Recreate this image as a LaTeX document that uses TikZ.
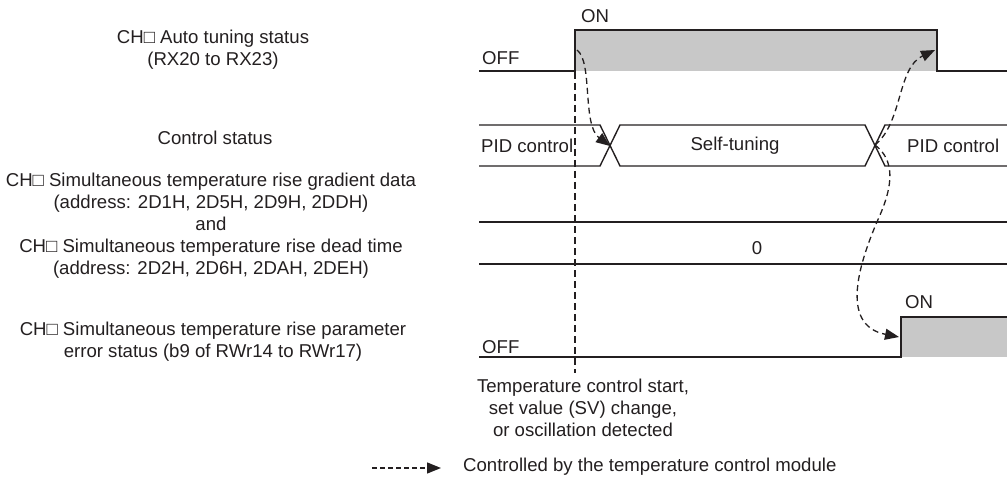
\documentclass[tikz,border=0pt]{standalone}
\usepackage{fontspec}
\setmainfont{Liberation Sans}
\usetikzlibrary{arrows.meta,positioning,calc}
\definecolor{ink}{HTML}{231F20}
\definecolor{sig}{HTML}{C8C8C8}

\begin{document}
\begin{tikzpicture}[x=1pt,y=-1pt,
  every node/.style={font=\fontsize{18.6}{22}\selectfont,text=ink,inner sep=0pt},
  lbl/.style={align=center},
  wave/.style={ink,line width=1.4pt,line join=miter},
  ctrl/.style={ink,line width=1.3pt,dash pattern=on 6pt off 4pt,-{Triangle[length=14pt,width=11pt]}}]
  \useasboundingbox (0,0) rectangle (1007,484);
  % signal names
  \node[lbl] (tunelbl) at (213,50) {CH□ Auto tuning status\\(RX20 to RX23)};
  \node[lbl] (ctrllbl) at (215,138) {Control status};
  \node[lbl] (gradlbl) at (211,226) {CH□ Simultaneous temperature rise gradient data\\(address: 2D1H, 2D5H, 2D9H, 2DDH)\\and\\CH□ Simultaneous temperature rise dead time\\(address: 2D2H, 2D6H, 2DAH, 2DEH)};
  \node[lbl] (errlbl) at (213,342) {CH□ Simultaneous temperature rise parameter\\error status (b9 of RWr14 to RWr17)};
  % auto tuning status
  \fill[sig] (575,30) rectangle (937,71);
  \draw[wave] (479,71) -- (575,71) -- (575,30) -- (937,30) -- (937,71) -- (1007,71);
  \node[anchor=base west] (tuneon) at (581,23) {ON};
  \node[anchor=base west] (tuneoff) at (482,65) {OFF};
  % control status
  \draw[wave] (479,125) -- (600,125) -- (620,166) -- (865,166) -- (885,125) -- (1007,125);
  \draw[wave] (479,166) -- (600,166) -- (620,125) -- (865,125) -- (885,166) -- (1007,166);
  \node[anchor=west] (pid1) at (481,146) {PID control};
  \node (self) at (735,146) {Self-tuning};
  \node[anchor=west] (pid2) at (907,146) {PID control};
  % gradient data / dead time
  \foreach \y in {222,264} {
    \draw[wave] (479,\y) -- (1007,\y);}
  \node (zero) at (757,248) {0};
  % parameter error status
  \fill[sig] (901,317) rectangle (1007,357);
  \draw[wave] (479,357) -- (901,357) -- (901,317) -- (1007,317);
  \node[anchor=base west] (erron) at (905,308) {ON};
  \node[anchor=base west] (erroff) at (482,353) {OFF};
  % trigger
  \coordinate (trigtop) at (575,72);
  \coordinate (trigbot) at (575,373);
  \draw[ink,line width=1.3pt,dash pattern=on 7pt off 4pt] (trigtop) -- (trigbot);
  \node[lbl,below=6pt of trigbot,xshift=8pt] (trig) {Temperature control start,\\set value (SV) change,\\or oscillation detected};
  % module actions
  \coordinate (tunestart) at (577,50);
  \coordinate (cross1) at (610,146);
  \coordinate (cross2) at (875,145);
  \coordinate (tuneend) at (935,50);
  \coordinate (errset) at (899,337);
  \draw[ctrl] (tunestart) .. controls (593,62) and (582,125) .. (cross1);
  \draw[ctrl] (cross2) .. controls (903,122) and (897,68) .. (tuneend);
  \draw[ctrl] (cross2) .. controls (895,160) and (893,185) .. (880,215)
    .. controls (860,260) and (838,325) .. (errset);
  % legend
  \coordinate (legA) at (372,468);
  \coordinate (legB) at (441,468);
  \draw[ctrl,dash pattern=on 5pt off 3pt] (legA) -- (legB);
  \node[anchor=west] (legtxt) at (463,467) {Controlled by the temperature control module};
\end{tikzpicture}
\end{document}
